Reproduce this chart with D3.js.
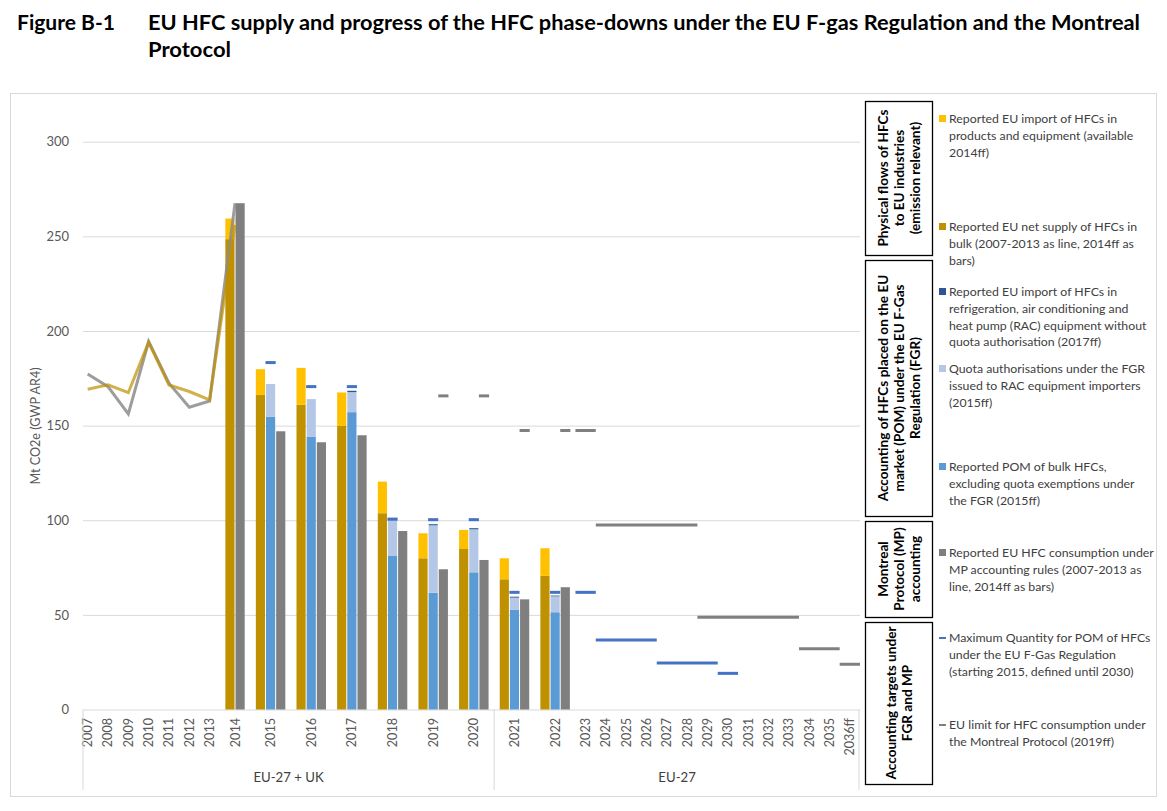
<!DOCTYPE html>
<html>
<head>
<meta charset="utf-8">
<script src="https://cdn.jsdelivr.net/npm/d3@7"></script>
<style>
  body { margin: 0; background: #fff; }
  text { font-family: Lato, "Open Sans", sans-serif; }
</style>
</head>
<body>
<svg id="chart" width="1167" height="811"></svg>
<script>
// ---- data (Mt CO2e, GWP AR4) ----
var years = ["2007","2008","2009","2010","2011","2012","2013","2014","2015","2016","2017","2018",
  "2019","2020","2021","2022","2023","2024","2025","2026","2027","2028","2029","2030","2031",
  "2032","2033","2034","2035","2036ff"];

// 2007-2013 shown as lines (joined to the 2014 bars)
var lineYears = ["2007","2008","2009","2010","2011","2012","2013","2014"];
var bulkLine = [169.2, 171.5, 167.4, 194.0, 171.5, 168.0, 163.6, 256.0];
var mpLine   = [177.3, 170.6, 156.2, 194.4, 172.4, 159.7, 163.0, 267.5];

// 2014ff as bars
var barYears      = ["2014","2015","2016","2017","2018","2019","2020","2021","2022"];
var bulkSupply    = [248.5, 166.2, 161.0, 149.8, 103.7, 79.9, 84.8, 68.8, 70.6];
var productImport = [10.9, 13.6, 19.5, 17.7, 16.7, 13.2, 10.1, 11.1, 14.6];
var pomBulk       = [null, 154.6, 144.2, 157.1, 81.1, 61.7, 72.5, 52.6, 51.4];
var quotaAuth     = [null, 17.4, 19.8, 10.6, 18.9, 35.6, 22.7, 6.5, 8.4];
var racNoQuota    = [null, null, null, 0.7, 0.7, 0.6, 0.6, 0.5, 0.4];
var mpConsumption = [267.5, 147.0, 141.2, 144.9, 94.3, 74.1, 79.0, 58.2, 64.6];

// targets
var maxQtyYears = ["2015","2016","2017","2018","2019","2020","2021","2022","2023","2024","2025",
  "2026","2027","2028","2029","2030"];
var maxQuantity = [183.3, 170.6, 170.6, 100.6, 100.3, 100.3, 61.9, 61.9, 61.9, 36.7, 36.7,
  36.7, 24.6, 24.6, 24.6, 19.1];
var mpLimitYears = ["2019","2020","2021","2022","2023","2024","2025","2026","2027","2028","2029",
  "2030","2031","2032","2033","2034","2035","2036ff"];
var mpLimit = [165.7, 165.7, 147.4, 147.4, 147.4, 97.5, 97.5, 97.5, 97.5, 97.5, 48.7,
  48.7, 48.7, 48.7, 48.7, 32.1, 32.1, 23.9];

var yTicks = [0, 50, 100, 150, 200, 250, 300];
var regions = [{label: "EU-27 + UK", from: "2007", to: "2020"}, {label: "EU-27", from: "2021", to: "2036ff"}];

var legendItems = [
  {color: "#FFC000", type: "box", y: 119, lines: ["Reported EU import of HFCs in", "products and equipment (available", "2014ff)"]},
  {color: "#BF9000", type: "box", y: 227, lines: ["Reported EU net supply of HFCs in", "bulk (2007-2013 as line, 2014ff as", "bars)"]},
  {color: "#2F5597", type: "box", y: 292, lines: ["Reported EU import of HFCs in", "refrigeration, air conditioning and", "heat pump (RAC) equipment without", "quota authorisation (2017ff)"]},
  {color: "#B4C7E7", type: "box", y: 369, lines: ["Quota authorisations under the FGR", "issued to RAC equipment importers", "(2015ff)"]},
  {color: "#5B9BD5", type: "box", y: 467, lines: ["Reported POM of bulk HFCs,", "excluding quota exemptions under", "the FGR (2015ff)"]},
  {color: "#7F7F7F", type: "box", y: 553, lines: ["Reported EU HFC consumption under", "MP accounting rules (2007-2013 as", "line, 2014ff as bars)"]},
  {color: "#4472C4", type: "dash", y: 638, lines: ["Maximum Quantity for POM of HFCs", "under the EU F-Gas Regulation", "(starting 2015, defined until 2030)"]},
  {color: "#808080", type: "dash", y: 725, lines: ["EU limit for HFC consumption under", "the Montreal Protocol (2019ff)"]}
];
var groupBoxes = [
  {top: 101, bottom: 255, lines: ["Physical flows of HFCs", "to EU industries", "(emission relevant)"]},
  {top: 260, bottom: 516, lines: ["Accounting of HFCs placed on the EU", "market (POM) under the EU F-Gas", "Regulation (FGR)"]},
  {top: 521, bottom: 617, lines: ["Montreal", "Protocol (MP)", "accounting"]},
  {top: 622, bottom: 784, lines: ["Accounting targets under", "FGR and MP"]}
];

// ---- layout ----
var svg = d3.select("#chart");
var plotLeft = 83, plotRight = 860, plotBottom = 709.5, plotTop = 141.7;

function slotWeight(yr) {
  if (yr === "2014") return 1.5;
  return barYears.indexOf(yr) >= 0 ? 2 : 1;
}
var slots = {}, acc = 0;
years.forEach(function(yr) {
  slots[yr] = {start: acc, w: slotWeight(yr)};
  acc += slots[yr].w;
});
var u = d3.scaleLinear().domain([0, acc]).range([77.5, plotRight]);
var y = d3.scaleLinear().domain([0, 300]).range([plotBottom, plotTop]);
var bw = u(0.5) - u(0);

function cx(yr) { return u(slots[yr].start + slots[yr].w / 2); }
function slotL(yr) { return u(slots[yr].start); }
function slotR(yr) { return u(slots[yr].start + slots[yr].w); }
// bar slot k: 0 left, 1 middle, 2 right
function barX(yr, k) {
  if (yr === "2014") return k === 0 ? cx(yr) - bw : cx(yr);
  return cx(yr) - 1.5 * bw + k * bw;
}

// outer frame
svg.append("rect").attr("x", 10.5).attr("y", 93.5).attr("width", 1146).attr("height", 703)
  .attr("fill", "none").attr("stroke", "#d9d9d9");

// title
svg.append("text").attr("x", 17).attr("y", 30).attr("font-weight", "bold").attr("font-size", 20)
  .attr("textLength", 98).attr("lengthAdjust", "spacingAndGlyphs")
  .text("Figure B-1");
svg.append("text").attr("x", 148).attr("y", 30).attr("font-weight", "bold").attr("font-size", 20)
  .attr("textLength", 992).attr("lengthAdjust", "spacingAndGlyphs")
  .text("EU HFC supply and progress of the HFC phase-downs under the EU F-gas Regulation and the Montreal");
svg.append("text").attr("x", 148).attr("y", 57).attr("font-weight", "bold").attr("font-size", 20)
  .attr("textLength", 83).attr("lengthAdjust", "spacingAndGlyphs")
  .text("Protocol");

// y axis + gridlines
var yAxis = svg.append("g").attr("transform", "translate(" + plotLeft + ",0)")
  .call(d3.axisLeft(y).tickValues(yTicks).tickSize(-(plotRight - plotLeft)).tickPadding(14));
yAxis.select(".domain").remove();
yAxis.selectAll("line").attr("stroke", "#d9d9d9");
yAxis.selectAll("text").attr("fill", "#595959").attr("font-size", 13)
  .style("font-family", "Lato, sans-serif");

svg.append("text").attr("transform", "translate(40,426) rotate(-90)")
  .attr("text-anchor", "middle").attr("font-size", 12.6).attr("fill", "#595959")
  .text("Mt CO2e (GWP AR4)");

// x category labels
svg.append("g").selectAll("text").data(years).join("text")
  .attr("transform", function(d) { return "translate(" + (cx(d) + 4.5) + ",718) rotate(-90)"; })
  .attr("text-anchor", "end").attr("font-size", 12.6).attr("fill", "#595959")
  .text(function(d) { return d; });

// region dividers and labels
var dividers = [plotLeft, slotL("2021"), plotRight - 1];
svg.append("g").selectAll("line").data(dividers).join("line")
  .attr("x1", function(d) { return d; }).attr("x2", function(d) { return d; })
  .attr("y1", plotBottom).attr("y2", 790).attr("stroke", "#d9d9d9");
svg.append("g").selectAll("text").data(regions).join("text")
  .attr("x", function(d) { return (Math.max(plotLeft, slotL(d.from)) + slotR(d.to)) / 2; })
  .attr("y", 782).attr("text-anchor", "middle").attr("font-size", 13.2).attr("fill", "#404040")
  .text(function(d) { return d.label; });

// bars
var barData = [];
barYears.forEach(function(yr, i) {
  barData.push({x: barX(yr, 0), y0: 0, y1: bulkSupply[i], c: "#BF9000"});
  barData.push({x: barX(yr, 0), y0: bulkSupply[i], y1: bulkSupply[i] + productImport[i], c: "#FFC000"});
  if (pomBulk[i] != null) {
    var top = pomBulk[i];
    barData.push({x: barX(yr, 1), y0: 0, y1: top, c: "#5B9BD5"});
    barData.push({x: barX(yr, 1), y0: top, y1: top + quotaAuth[i], c: "#B4C7E7"});
    top += quotaAuth[i];
    if (racNoQuota[i] != null) barData.push({x: barX(yr, 1), y0: top, y1: top + racNoQuota[i], c: "#2F5597"});
  }
  barData.push({x: barX(yr, 2), y0: 0, y1: mpConsumption[i], c: "#7F7F7F"});
});
svg.append("g").selectAll("rect").data(barData).join("rect")
  .attr("x", function(d) { return d.x + 0.5; })
  .attr("width", bw - 1)
  .attr("y", function(d) { return y(d.y1); })
  .attr("height", function(d) { return y(d.y0) - y(d.y1); })
  .attr("fill", function(d) { return d.c; });

// 2007-2013 lines
var line = d3.line().x(function(d) { return cx(d[0]); }).y(function(d) { return y(d[1]); });
svg.append("path").datum(d3.zip(lineYears, mpLine)).attr("d", line)
  .attr("fill", "none").attr("stroke", "#8c8c8c").attr("stroke-opacity", 0.85).attr("stroke-width", 3);
svg.append("path").datum(d3.zip(lineYears, bulkLine)).attr("d", line)
  .attr("fill", "none").attr("stroke", "#BF9000").attr("stroke-opacity", 0.7).attr("stroke-width", 3);

// target dashes: above the matching bar in bar years, across the slot otherwise;
// neighbouring slots with the same value are merged into one segment
function dashSpan(yr, k) {
  if (barYears.indexOf(yr) >= 0) return [barX(yr, k), barX(yr, k) + bw];
  return [slotL(yr), slotR(yr)];
}
function drawDashes(yrs, vals, k, color) {
  var segs = [];
  yrs.forEach(function(yr, i) {
    var s = dashSpan(yr, k), last = segs[segs.length - 1];
    if (last && last.v === vals[i] && Math.abs(last.x2 - s[0]) < 0.5) last.x2 = s[1];
    else segs.push({x1: s[0], x2: s[1], v: vals[i]});
  });
  svg.append("g").selectAll("line").data(segs).join("line")
    .attr("x1", function(d) { return d.x1; })
    .attr("x2", function(d) { return d.x2; })
    .attr("y1", function(d) { return y(d.v); })
    .attr("y2", function(d) { return y(d.v); })
    .attr("stroke", color).attr("stroke-width", 3);
}
drawDashes(mpLimitYears, mpLimit, 2, "#808080");
drawDashes(maxQtyYears, maxQuantity, 1, "#4472C4");

// group boxes of the legend
groupBoxes.forEach(function(b) {
  svg.append("rect").attr("x", 865.5).attr("y", b.top + 0.5).attr("width", 67).attr("height", b.bottom - b.top)
    .attr("fill", "#fff").attr("stroke", "#000").attr("stroke-width", 1.3);
  var mid = (b.top + b.bottom) / 2;
  var g = svg.append("g").attr("transform", "translate(899.5," + mid + ") rotate(-90)");
  var n = b.lines.length;
  g.selectAll("text").data(b.lines).join("text")
    .attr("x", 0).attr("y", function(d, i) { return (i - (n - 1) / 2) * 15.8; })
    .attr("dy", "0.35em").attr("text-anchor", "middle").attr("font-weight", "bold")
    .attr("font-size", 13.6).attr("fill", "#000")
    .text(function(d) { return d; });
});

// legend items
legendItems.forEach(function(it) {
  if (it.type === "box") {
    svg.append("rect").attr("x", 939).attr("y", it.y - 4).attr("width", 7).attr("height", 7).attr("fill", it.color);
  } else {
    svg.append("line").attr("x1", 939).attr("x2", 946).attr("y1", it.y).attr("y2", it.y)
      .attr("stroke", it.color).attr("stroke-width", 2);
  }
  svg.append("g").selectAll("text").data(it.lines).join("text")
    .attr("x", 949).attr("y", function(d, i) { return it.y + i * 16.6; })
    .attr("dy", "0.35em").attr("font-size", 12.3).attr("fill", "#404040")
    .text(function(d) { return d; });
});
</script>
</body>
</html>
